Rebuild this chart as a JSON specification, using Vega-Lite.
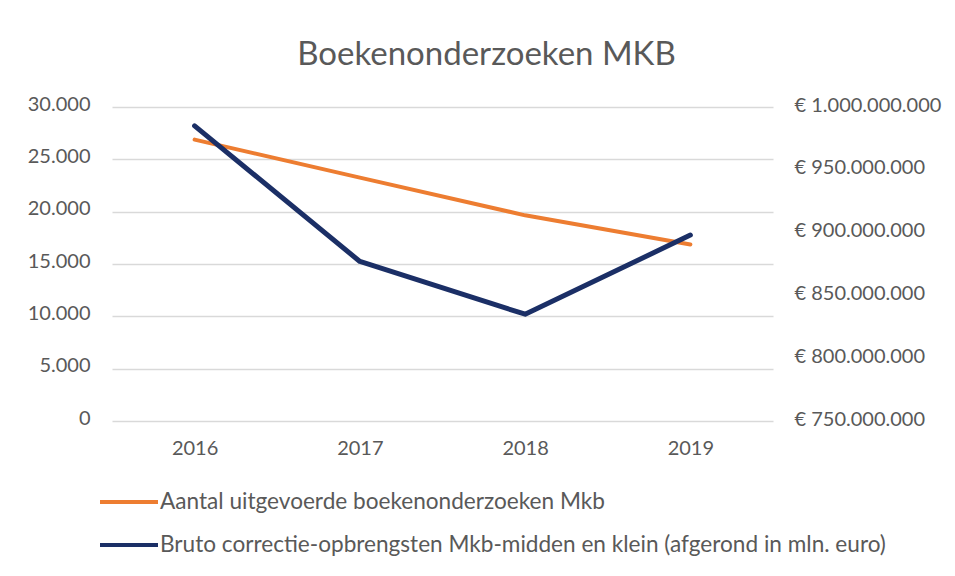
{
  "$schema": "https://vega.github.io/schema/vega-lite/v6.json",
  "width": 661,
  "height": 314,
  "autosize": {"type": "none"},
  "padding": {"left": 112, "top": 107, "right": 182, "bottom": 155},
  "background": "white",
  "title": {
    "text": "Boekenonderzoeken MKB",
    "font": "Lato",
    "fontSize": 33,
    "fontWeight": "normal",
    "color": "#595959",
    "anchor": "middle",
    "frame": "group",
    "baseline": "alphabetic",
    "offset": -4,
    "dx": 44
  },
  "data": {
    "values": [
      {"year": "2016", "series": "Aantal uitgevoerde boekenonderzoeken Mkb", "value": 26880},
      {"year": "2017", "series": "Aantal uitgevoerde boekenonderzoeken Mkb", "value": 23250},
      {"year": "2018", "series": "Aantal uitgevoerde boekenonderzoeken Mkb", "value": 19650},
      {"year": "2019", "series": "Aantal uitgevoerde boekenonderzoeken Mkb", "value": 16870},
      {"year": "2016", "series": "Bruto correctie-opbrengsten Mkb-midden en klein (afgerond in mln. euro)", "value": 985000000},
      {"year": "2017", "series": "Bruto correctie-opbrengsten Mkb-midden en klein (afgerond in mln. euro)", "value": 877000000},
      {"year": "2018", "series": "Bruto correctie-opbrengsten Mkb-midden en klein (afgerond in mln. euro)", "value": 835000000},
      {"year": "2019", "series": "Bruto correctie-opbrengsten Mkb-midden en klein (afgerond in mln. euro)", "value": 898000000}
    ]
  },
  "encoding": {
    "x": {
      "field": "year",
      "type": "ordinal",
      "scale": {"type": "point", "padding": 0.5},
      "axis": {
        "title": null,
        "labelAngle": 0,
        "domain": false,
        "ticks": false,
        "grid": false,
        "labelPadding": 17,
        "labelBaseline": "top"
      }
    },
    "color": {
      "field": "series",
      "type": "nominal",
      "scale": {
        "domain": [
          "Aantal uitgevoerde boekenonderzoeken Mkb",
          "Bruto correctie-opbrengsten Mkb-midden en klein (afgerond in mln. euro)"
        ],
        "range": ["#ED7D31", "#1B2F66"]
      },
      "legend": {
        "title": null,
        "orient": "none",
        "legendX": -14,
        "legendY": 364,
        "direction": "vertical",
        "symbolType": "stroke",
        "symbolSize": 3364,
        "symbolStrokeWidth": 4,
        "rowPadding": -7,
        "labelFont": "Lato",
        "labelFontSize": 22.6,
        "labelColor": "#595959",
        "labelOffset": 0,
        "labelLimit": 900
      }
    }
  },
  "layer": [
    {
      "transform": [{"filter": "datum.series === 'Aantal uitgevoerde boekenonderzoeken Mkb'"}],
      "mark": {"type": "line", "strokeWidth": 4, "strokeCap": "round", "strokeJoin": "round"},
      "encoding": {
        "y": {
          "field": "value",
          "type": "quantitative",
          "scale": {"domain": [0, 30000], "nice": false, "zero": true},
          "axis": {
            "orient": "left",
            "title": null,
            "values": [0, 5000, 10000, 15000, 20000, 25000, 30000],
            "format": ",.0f",
            "domain": false,
            "ticks": false,
            "grid": true,
            "gridColor": "#d9d9d9",
            "gridWidth": 1.5,
            "labelPadding": 22,
            "labelOffset": -3
          }
        }
      }
    },
    {
      "transform": [{"filter": "datum.series !== 'Aantal uitgevoerde boekenonderzoeken Mkb'"}],
      "mark": {"type": "line", "strokeWidth": 5, "strokeCap": "round", "strokeJoin": "round"},
      "encoding": {
        "y": {
          "field": "value",
          "type": "quantitative",
          "scale": {"domain": [750000000, 1000000000], "nice": false, "zero": false},
          "axis": {
            "orient": "right",
            "title": null,
            "values": [750000000, 800000000, 850000000, 900000000, 950000000, 1000000000],
            "format": "$,.0f",
            "domain": false,
            "ticks": false,
            "grid": false,
            "labelPadding": 21,
            "labelOffset": -2
          }
        }
      }
    }
  ],
  "resolve": {"scale": {"y": "independent"}, "axis": {"y": "independent"}},
  "config": {
    "locale": {
      "number": {
        "decimal": ",",
        "thousands": ".",
        "grouping": [3],
        "currency": ["€ ", ""]
      }
    },
    "view": {"stroke": null},
    "axis": {
      "labelFont": "Lato",
      "labelFontSize": 20,
      "labelColor": "#595959"
    }
  }
}
